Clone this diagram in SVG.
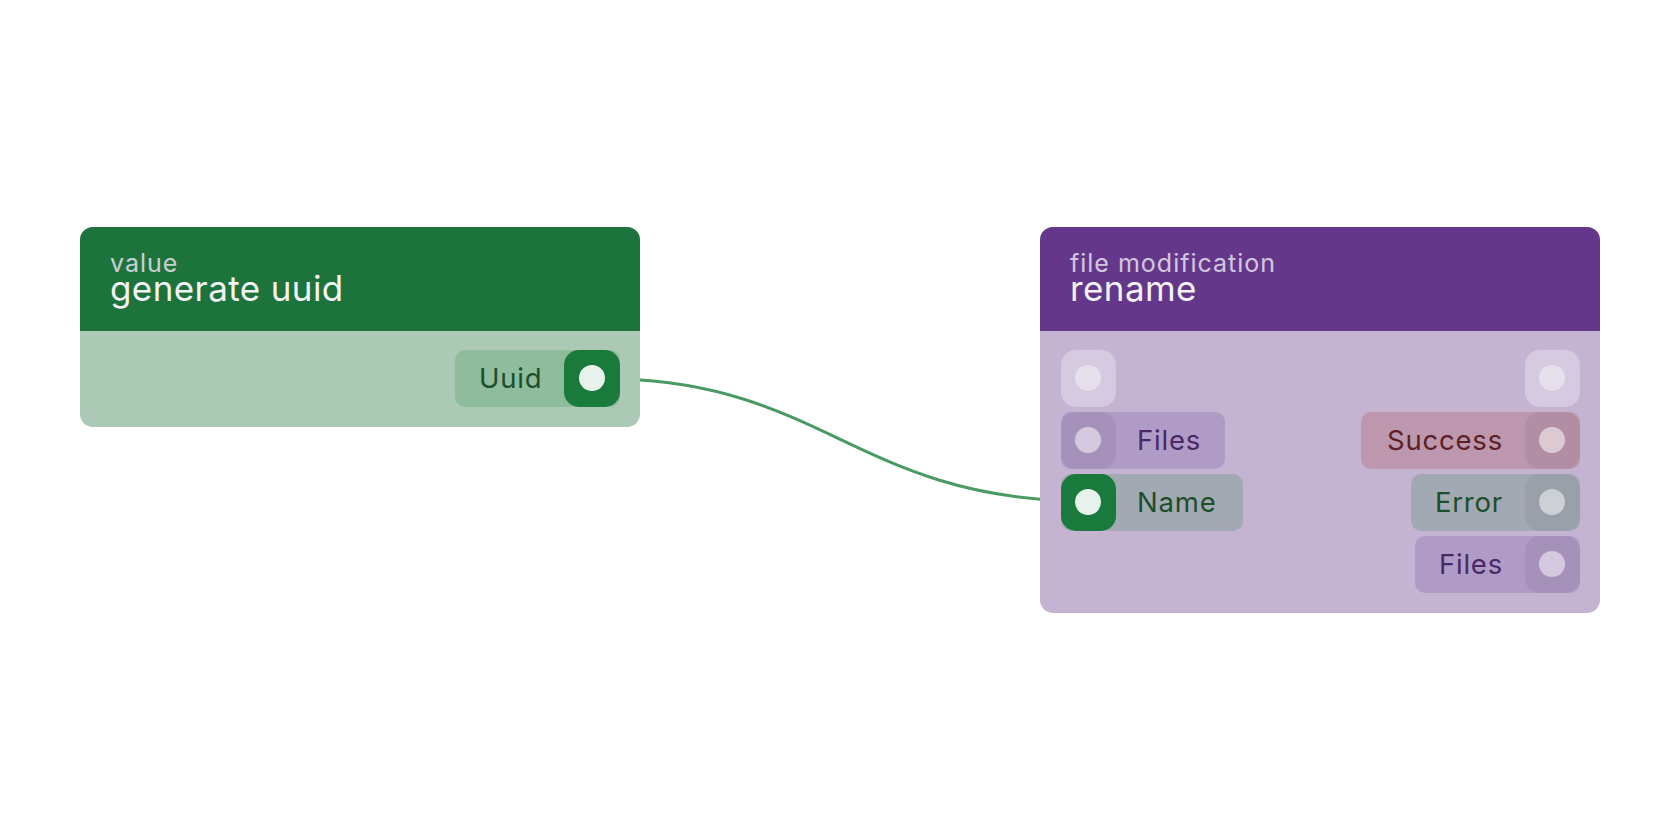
<svg xmlns="http://www.w3.org/2000/svg" width="1680" height="840" viewBox="0 0 1680 840">
<style>
text{font-family:Inter,"Noto Sans",sans-serif}
.cat{font-size:25px;fill:#e6e0ec;opacity:.85;letter-spacing:1px}
.ttl{font-size:35px;fill:#f3f3f3;letter-spacing:.4px}
.lbl{font-size:27.5px;letter-spacing:.8px}
.dot{fill:#e8f2ec}
</style>
<rect width="1680" height="840" fill="#fff"/>
<g id="connectors">
<path d="M621 379 C 820 385, 860 495, 1071 501" fill="none" stroke="#4a9a63" stroke-width="3"/>
</g>
<g id="node-generate-uuid">
<rect x="80" y="227" width="560" height="200" rx="13" fill="#acc9b6"/>
<path d="M80 331 V240 a13 13 0 0 1 13 -13 H627 a13 13 0 0 1 13 13 V331 Z" fill="#1c733c"/>
<text class="cat" x="110" y="272">value</text>
<text class="ttl" x="110" y="301">generate uuid</text>
<rect x="455" y="350" width="165" height="57" rx="10" fill="#8ebc9d"/>
<rect x="564" y="350" width="56" height="57" rx="15" fill="#1a7a3c"/>
<circle class="dot" cx="592" cy="378" r="13"/>
<text class="lbl" x="479" y="388" fill="#1b4f2b">Uuid</text>
</g>
<g id="node-rename">
<rect x="1040" y="227" width="560" height="386" rx="13" fill="#c4b4d1"/>
<path d="M1040 331 V240 a13 13 0 0 1 13 -13 H1587 a13 13 0 0 1 13 13 V331 Z" fill="#64378a"/>
<text class="cat" x="1070" y="272">file modification</text>
<text class="ttl" x="1070" y="301">rename</text>
<rect x="1061" y="350" width="55" height="57" rx="15" fill="#d6cae0"/>
<circle cx="1088" cy="378" r="13" fill="#e6dfec"/>
<rect x="1525" y="350" width="55" height="57" rx="15" fill="#d6cae0"/>
<circle cx="1552" cy="378" r="13" fill="#e6dfec"/>
<rect x="1061" y="412" width="164" height="57" rx="10" fill="#b09bc6"/>
<rect x="1061" y="412" width="55" height="57" rx="15" fill="#a691bb"/>
<circle cx="1088" cy="440" r="13" fill="#d4c9df"/>
<text class="lbl" x="1137" y="450" fill="#4a2868">Files</text>
<rect x="1061" y="474" width="182" height="57" rx="10" fill="#a3a9b3"/>
<rect x="1061" y="474" width="55" height="57" rx="15" fill="#1a7a3c"/>
<circle class="dot" cx="1088" cy="502" r="13"/>
<text class="lbl" x="1137" y="512" fill="#1b4f2b">Name</text>
<rect x="1361" y="412" width="219" height="57" rx="10" fill="#bc97ad"/>
<rect x="1525" y="412" width="55" height="57" rx="15" fill="#b18ea4"/>
<circle cx="1552" cy="440" r="13" fill="#dccad3"/>
<text class="lbl" x="1503" y="450" text-anchor="end" fill="#5e1e24">Success</text>
<rect x="1411" y="474" width="169" height="57" rx="10" fill="#a3a9b3"/>
<rect x="1525" y="474" width="55" height="57" rx="15" fill="#99a0aa"/>
<circle cx="1552" cy="502" r="13" fill="#cdd0d5"/>
<text class="lbl" x="1503" y="512" text-anchor="end" fill="#1b4f2b">Error</text>
<rect x="1415" y="536" width="165" height="57" rx="10" fill="#b09bc6"/>
<rect x="1525" y="536" width="55" height="57" rx="15" fill="#a691bb"/>
<circle cx="1552" cy="564" r="13" fill="#d4c9df"/>
<text class="lbl" x="1503" y="574" text-anchor="end" fill="#4a2868">Files</text>
</g>
</svg>
